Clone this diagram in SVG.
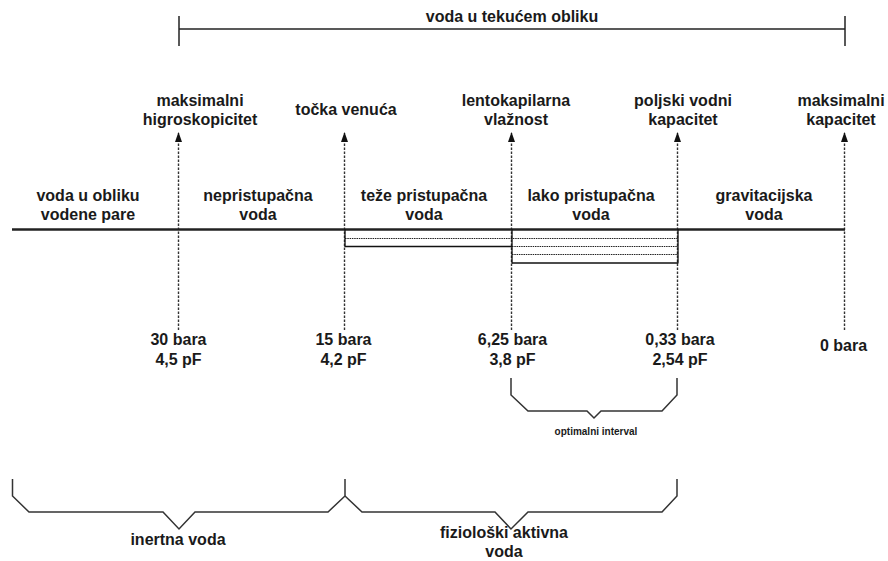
<svg xmlns="http://www.w3.org/2000/svg" width="888" height="561" viewBox="0 0 888 561">
<defs>
<style>
text{font-family:"Liberation Sans",Arial,sans-serif;font-weight:bold;font-size:16px;fill:#1a1a1a;text-anchor:middle}
.small{font-size:10px}
.solid{stroke:#222;stroke-width:1.5;fill:none}
.thin{stroke:#111;stroke-width:1.3;fill:none}
.dash{stroke:#333;stroke-width:1.4;stroke-dasharray:2.5 1.5;fill:none}
.fine{stroke:#222;stroke-width:1.1;stroke-dasharray:1.5 0.8;fill:none}
.main{stroke:#222;stroke-width:2.5;fill:none}
.brace{stroke:#333;stroke-width:1.5;fill:none;stroke-linejoin:miter}
</style>
<marker id="arr" markerUnits="userSpaceOnUse" markerWidth="10" markerHeight="8" refX="9" refY="4" orient="auto" viewBox="0 0 10 8">
<polygon points="0,0.5 10,4 0,7.5" fill="#111"/>
</marker>
</defs>

<g id="connectors">
<!-- top bracket -->
<line class="solid" x1="179" y1="29" x2="845" y2="29"/>
<line class="solid" x1="179" y1="16" x2="179" y2="46"/>
<line class="solid" x1="845" y1="16" x2="845" y2="46"/>
<!-- dashed indicators -->
<line class="dash" x1="178.5" y1="330" x2="178.5" y2="133" marker-end="url(#arr)"/>
<line class="dash" x1="344.5" y1="330" x2="344.5" y2="133" marker-end="url(#arr)"/>
<line class="dash" x1="511.5" y1="330" x2="511.5" y2="133" marker-end="url(#arr)"/>
<line class="dash" x1="677.5" y1="330" x2="677.5" y2="133" marker-end="url(#arr)"/>
<line class="dash" x1="844.5" y1="330" x2="844.5" y2="133" marker-end="url(#arr)"/>
<!-- main axis -->
<line class="main" x1="12" y1="229.5" x2="845" y2="229.5"/>
<!-- availability bands -->
<line class="fine" x1="345" y1="238.5" x2="678" y2="238.5"/>
<line class="thin" x1="345" y1="246.5" x2="512" y2="246.5"/>
<line class="fine" x1="512" y1="246.5" x2="678" y2="246.5"/>
<line class="fine" x1="512" y1="254.5" x2="678" y2="254.5"/>
<line class="thin" x1="512" y1="263" x2="678" y2="263"/>
<line class="thin" x1="345" y1="229" x2="345" y2="247"/>
<line class="thin" x1="512" y1="229" x2="512" y2="263.5"/>
<line class="thin" x1="678" y1="229" x2="678" y2="263.5"/>
<!-- optimal interval brace -->
<polyline class="brace" points="511,378 511,395 528,411 587,411 594,418 601,411 662,411 677,395 677,378"/>
<!-- bottom braces -->
<polyline class="brace" points="12.5,479 12.5,496 29,512 163,512 179,529 195,512 328,512 345,496 345,479"/>
<polyline class="brace" points="345,496 362,512 495,512 511,529 528,512 662,512 677,496 677,479"/>
</g>

<g id="title"><text x="512" y="22">voda u tekućem obliku</text></g>

<g id="maks-higro"><text x="200" y="106">maksimalni</text><text x="200" y="125">higroskopicitet</text></g>
<g id="tocka-venuca"><text x="346" y="115">točka venuća</text></g>
<g id="lentokapilarna"><text x="516" y="106">lentokapilarna</text><text x="516" y="125">vlažnost</text></g>
<g id="poljski"><text x="683" y="106">poljski vodni</text><text x="683" y="125">kapacitet</text></g>
<g id="maks-kap"><text x="841" y="106">maksimalni</text><text x="841" y="125">kapacitet</text></g>

<g id="zone-para"><text x="88" y="201">voda u obliku</text><text x="88" y="220">vodene pare</text></g>
<g id="zone-nepristupacna"><text x="258" y="201">nepristupačna</text><text x="258" y="220">voda</text></g>
<g id="zone-teze"><text x="424" y="201">teže pristupačna</text><text x="424" y="220">voda</text></g>
<g id="zone-lako"><text x="591" y="201">lako pristupačna</text><text x="591" y="220">voda</text></g>
<g id="zone-grav"><text x="764" y="201">gravitacijska</text><text x="764" y="220">voda</text></g>

<g id="v30"><text x="178.5" y="345">30 bara</text><text x="178.5" y="365">4,5 pF</text></g>
<g id="v15"><text x="343.5" y="345">15 bara</text><text x="343.5" y="365">4,2 pF</text></g>
<g id="v625"><text x="512.5" y="345">6,25 bara</text><text x="512.5" y="365">3,8 pF</text></g>
<g id="v033"><text x="680" y="345">0,33 bara</text><text x="680" y="365">2,54 pF</text></g>
<g id="v0"><text x="843.5" y="351">0 bara</text></g>

<g id="optimalni"><text class="small" x="596" y="435">optimalni interval</text></g>
<g id="inertna"><text x="178" y="545">inertna voda</text></g>
<g id="fizioloski"><text x="504" y="538">fiziološki aktivna</text><text x="504" y="557">voda</text></g>
</svg>
